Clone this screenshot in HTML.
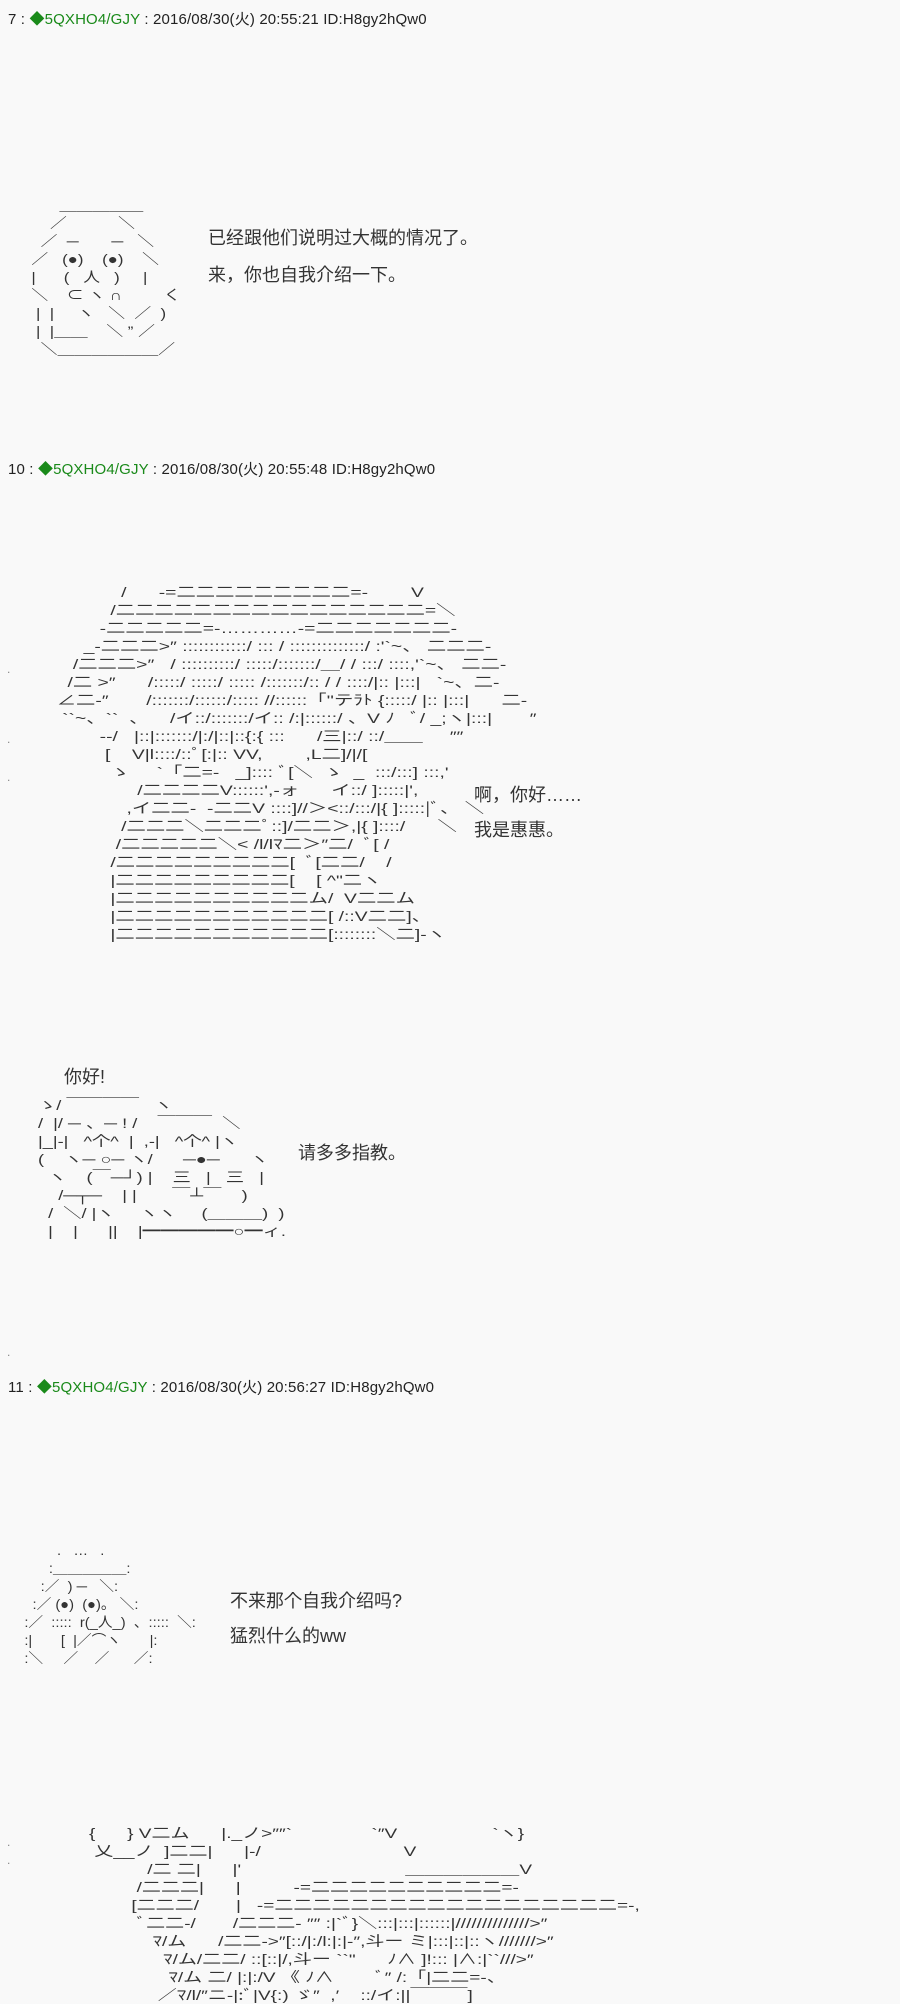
<!DOCTYPE html>
<html><head><meta charset="utf-8"><style>
body{margin:0;background:#f9f9f9;width:900px;height:2000px;position:relative;overflow:hidden;font-family:"Liberation Sans","Noto Sans CJK JP",sans-serif;color:#222}
.h{position:absolute;left:8px;font-size:15px;white-space:pre;letter-spacing:0.15px}
.h b{font-weight:normal;color:#1a8a1a}
.t{position:absolute;font-size:18px;white-space:pre;color:#333}
.aa{position:absolute;font-size:14px;line-height:18px;white-space:pre;color:#333;font-family:"Liberation Sans","Noto Sans CJK JP",sans-serif;transform-origin:0 0}
.d{position:absolute;left:7px;font-size:12px;color:#888}
</style></head><body>
<div class="h" style="top:8px">7 : <b>◆5QXHO4/GJY</b> : 2016/08/30(火) 20:55:21 ID:H8gy2hQw0</div>
<div class="aa" style="left:22px;top:196px;transform:scaleX(1.2)">        ＿＿＿＿＿
      ／           ＼
    ／  ─       ─   ＼
  ／   (●)    (●)    ＼
  |      (   人   )     |
  ＼    ⊂ ヽ ∩         く
   |  |     ヽ   ＼  ／  )
   |  |＿＿    ＼ ” ／
    ＼＿＿＿＿＿＿／</div>
<div class="t" style="left:208px;top:224px">已经跟他们说明过大概的情况了。</div>
<div class="t" style="left:208px;top:261px">来，你也自我介绍一下。</div>

<div class="h" style="top:458px">10 : <b>◆5QXHO4/GJY</b> : 2016/08/30(火) 20:55:48 ID:H8gy2hQw0</div>
<div class="aa" style="left:46px;top:583px;transform:scaleX(1.38)">              /      -=二二二二二二二二二=-        V
            /二二二二二二二二二二二二二二二二=＼
          -二二二二二=-…………-=二二二二二二二-
       _-二二二>″ ::::::::::::/ ::: / ::::::::::::::/ :'`~、 二二二-
     /二二二>″   / ::::::::::/ :::::/:::::::/＿/ / :::/ ::::,'`~、 二二-
    /二 >″      /:::::/ :::::/ ::::: /:::::::/:: / / ::::/|:: |:::|   `~、二-
  ∠二-″       /:::::::/::::::/::::: //::::::「''テﾗﾄ {:::::/ |:: |:::|      二-
   ``~、``  、    /イ::/:::::::/イ:: /:|::::::/ 、V ﾉ   ﾞ/ _;ヽ|:::|       ″
          --/   |::|:::::::/|:/|::|::{:{ :::      /三|::/ ::/＿＿     ″″
           [    V|l::::/::ﾟ[:|:: VV,        ,L二]/|/[
            ゝ     `「二=-   _]:::: ﾞ[＼  ゝ  _  :::/:::] :::,'
                 /二二二二V::::::',-ォ      イ::/ ]:::::|',
               ,イ二二-  -二二V ::::]//＞<::/:::/|{ ]:::::|ﾞ、 ＼
              /二二二＼二二二ﾟ::]/二二＞,|{ ]::::/      ＼
             /二二二二二＼< /l/lﾏ二＞″二/  ﾞ[ /
            /二二二二二二二二二[  ﾞ[二二/    /
            |二二二二二二二二二[    [ ^"二ヽ
            |二二二二二二二二二二ム/  V二二ム
            |二二二二二二二二二二二[ /::V二二]、
            |二二二二二二二二二二二[::::::::＼二]-ヽ</div>
<div class="d" style="top:662px">.</div><div class="d" style="top:732px">.</div><div class="d" style="top:770px">.</div>
<div class="t" style="left:474px;top:781px">啊，你好……</div>
<div class="t" style="left:474px;top:816px">我是惠惠。</div>

<div class="t" style="left:64px;top:1063px">你好!</div>
<div class="aa" style="left:38px;top:1096px;transform:scaleX(1.3)">ゝ/ ￣￣￣￣   ヽ
/  |/ ─ 、─ ! /    ￣￣￣  ＼
|_|-|   ^个^  |  ,-|   ^个^ |ヽ
(    ヽ─ ○─ ヽ/      ─●─      ヽ
  ヽ    (￣─┘) |    三   |   三   |
    /─┬─    | |       ￣┴￣    )
  /  ＼/ |ヽ     ヽヽ     (＿＿＿)  )
  |    |      ||    |━━━━━○━ィ.</div>
<div class="t" style="left:298px;top:1139px">请多多指教。</div>
<div class="d" style="top:1345px">.</div>

<div class="h" style="top:1376px">11 : <b>◆5QXHO4/GJY</b> : 2016/08/30(火) 20:56:27 ID:H8gy2hQw0</div>
<div class="aa" style="left:8px;top:1541px;transform:scaleX(1.05)">            .   …   .
          :＿＿＿＿＿:
        :／  ) ─   ＼:
      :／ (●)  (●)。 ＼:
    :／  :::::  r(_人_)  、:::::  ＼:
    :|       [  |／⌒ヽ       |:
    :＼     ／    ／      ／:</div>
<div class="t" style="left:230px;top:1587px">不来那个自我介绍吗?</div>
<div class="t" style="left:230px;top:1622px">猛烈什么的ww</div>

<div class="aa" style="left:89px;top:1824px;transform:scaleX(1.36)">{      } V二ム      |._ノ>″″`               `″V                  `ヽ}
 乂__ノ  ]二二|      |-/                           V
           /二 二|      |'                               ＿＿＿＿＿＿V
         /二二二|      |          -=二二二二二二二二二二=-
        [二二二/       |   -=二二二二二二二二二二二二二二二二二二=-,
         ﾞ二二-/       /二二二- ″″ :|`ﾞ}＼:::|:::|::::::|//////////////>″
            ﾏ/ム      /二二->″[::/|:/l:|:|-″,斗ー ミ|:::|::|::ヽ///////>″
              ﾏ/ム/二二/ ::[::|/,斗ー ``"      ﾉ∧ ]!::: |∧:|``///>″
               ﾏ/ム 二/ |:|:/V 《 ﾉ∧        ﾞ″ /:「|二二=-、
             ／ﾏ/l/″ニ-|:ﾞ|V{:) ゞ″  ,′    ::/イ:||￣￣￣]</div>
<div class="d" style="top:1835px">.</div><div class="d" style="top:1853px">.</div>
</body></html>
